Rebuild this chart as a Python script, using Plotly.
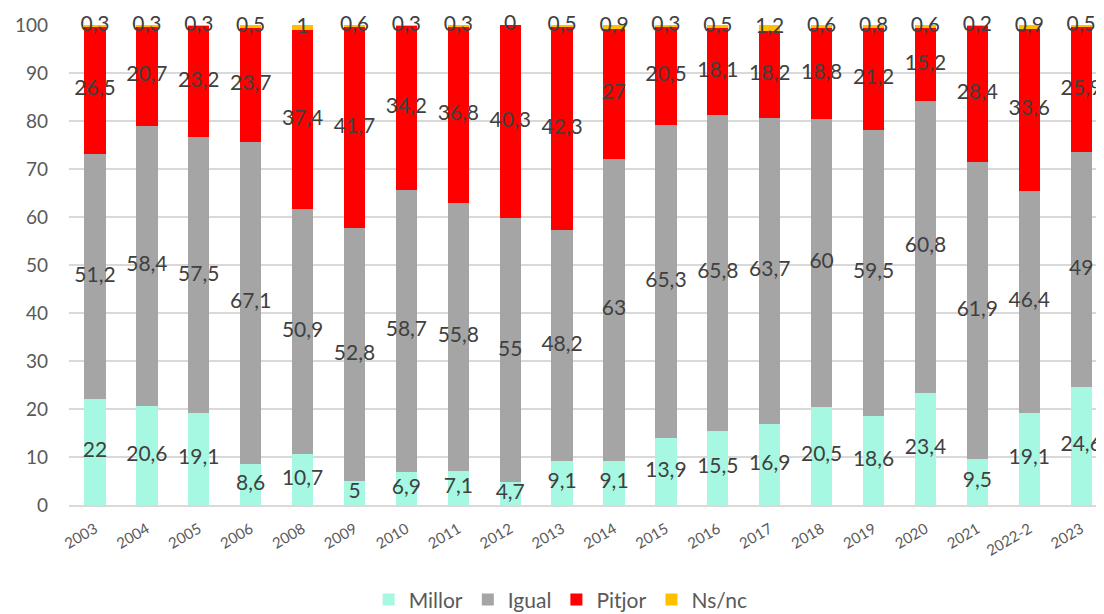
import plotly.graph_objects as go

categories = ["2003", "2004", "2005", "2006", "2008", "2009", "2010", "2011", "2012", "2013",
              "2014", "2015", "2016", "2017", "2018", "2019", "2020", "2021", "2022-2", "2023"]
millor = [22, 20.6, 19.1, 8.6, 10.7, 5, 6.9, 7.1, 4.7, 9.1, 9.1, 13.9, 15.5, 16.9, 20.5, 18.6, 23.4, 9.5, 19.1, 24.6]
igual = [51.2, 58.4, 57.5, 67.1, 50.9, 52.8, 58.7, 55.8, 55, 48.2, 63, 65.3, 65.8, 63.7, 60, 59.5, 60.8, 61.9, 46.4, 49]
pitjor = [26.5, 20.7, 23.2, 23.7, 37.4, 41.7, 34.2, 36.8, 40.3, 42.3, 27, 20.5, 18.1, 18.2, 18.8, 21.2, 15.2, 28.4, 33.6, 25.9]
nsnc = [0.3, 0.3, 0.3, 0.5, 1, 0.6, 0.3, 0.3, 0, 0.5, 0.9, 0.3, 0.5, 1.2, 0.6, 0.8, 0.6, 0.2, 0.9, 0.5]

series = [
    ("Millor", millor, "#A7F8E3"),
    ("Igual", igual, "#A5A5A5"),
    ("Pitjor", pitjor, "#FF0000"),
    ("Ns/nc", nsnc, "#FFC000"),
]

FONT = "Lato"
LABEL_COLOR = "#404040"


def fmt(v):
    s = ("%g" % v)
    return s.replace(".", ",")


fig = go.Figure()
base = [0.0] * len(categories)
label_traces = []
for name, vals, color in series:
    fig.add_trace(go.Bar(
        x=categories, y=vals, name=name,
        marker=dict(color=color, line=dict(width=0)),
        hoverinfo="skip",
    ))
    mids = [b + v / 2 for b, v in zip(base, vals)]
    label_traces.append(go.Scatter(
        x=categories, y=mids, mode="text",
        text=[fmt(v) for v in vals],
        textposition="middle center",
        textfont=dict(family=FONT, size=21, color=LABEL_COLOR),
        showlegend=False, hoverinfo="skip", cliponaxis=False,
    ))
    base = [b + v for b, v in zip(base, vals)]

for t in label_traces:
    fig.add_trace(t)

fig.update_layout(
    width=1096, height=606,
    barmode="stack", bargap=0.59,
    plot_bgcolor="white", paper_bgcolor="white",
    margin=dict(l=61, r=0, t=17, b=109, autoexpand=False),
    font=dict(family=FONT, color="#595959"),
    legend=dict(
        orientation="h", x=0.475, xanchor="center", y=-0.155, yanchor="top",
        font=dict(family=FONT, size=21, color="#595959"),
        traceorder="normal", itemwidth=30,
    ),
    xaxis=dict(
        type="category", range=[-0.5, 19.44],
        tickangle=-30, tickfont=dict(family=FONT, size=15, color="#595959"),
        showgrid=False, showline=True, linecolor="#D9D9D9", linewidth=1.5,
        ticks="", ticklabelstandoff=8,
    ),
    yaxis=dict(
        range=[0, 100], dtick=10, tick0=0,
        showgrid=True, gridcolor="#D9D9D9", gridwidth=1.5,
        zeroline=False, showline=False,
        tickfont=dict(family=FONT, size=19, color="#595959"),
        ticklabelstandoff=20,
    ),
)

fig.write_html("out.html")
